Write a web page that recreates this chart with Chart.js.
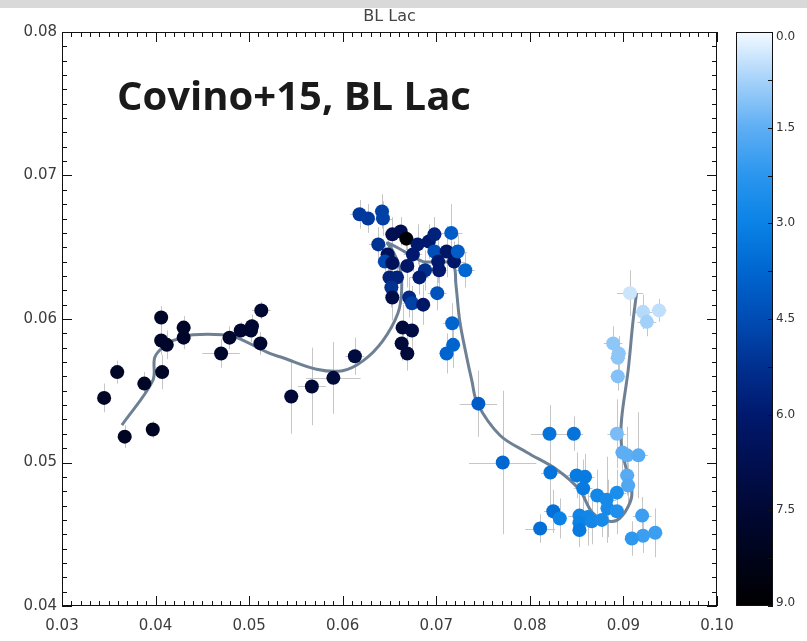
<!DOCTYPE html>
<html>
<head>
<meta charset="utf-8">
<title>BL Lac</title>
<script src="https://cdn.jsdelivr.net/npm/chart.js@4.4.0/dist/chart.umd.min.js"></script>
<style>
html, body { margin: 0; padding: 0; background: #fff; }
#wrap { position: relative; width: 807px; height: 641px; overflow: hidden; }
#topbar { position: absolute; left: 0; top: 0; width: 807px; height: 8px; background: #d9d9d9; z-index: 2; }
#myChart { position: absolute; left: 0; top: 0; }
</style>
</head>
<body>
<div id="wrap">
  <div id="topbar"></div>
  <canvas id="myChart" width="807" height="641"></canvas>
</div>
<script>
'use strict';

// measured points
var xValues = [0.0345,0.0359,0.0367,0.0388,0.0397,0.0406,0.0406,0.0407,0.0412,0.0430,0.0430,0.0470,0.0479,0.0491,0.0502,0.0503,0.0513,0.0512,0.0545,0.0567,0.0590,0.0613,
  0.0618,0.0627,0.0642,0.0643,0.0653,0.0662,0.0668,0.0638,0.0680,0.0692,0.0698,0.0716,0.0648,0.0645,0.0653,0.0675,0.0669,0.0698,0.0702,0.0711,0.0719,0.0723,0.0731,0.0703,0.0688,0.0682,0.0650,0.0658,0.0652,0.0653,0.0671,0.0674,0.0686,0.0701,0.0664,0.0674,0.0663,0.0669,0.0717,0.0718,0.0711,
  0.0745,0.0771,0.0821,0.0847,0.0822,0.0850,0.0859,0.0857,0.0872,0.0882,0.0893,0.0883,0.0893,0.0825,0.0832,0.0853,0.0862,0.0853,0.0866,0.0877,0.0853,0.0811,0.0920,0.0934,0.0921,0.0909,0.0904,0.0905,0.0893,0.0899,0.0904,0.0916,
  0.0907,0.0921,0.0925,0.0938,0.0889,0.0895,0.0894,0.0894];
var yValues = [0.0545,0.0563,0.0518,0.0555,0.0523,0.0601,0.0585,0.0563,0.0582,0.0594,0.0587,0.0576,0.0587,0.0592,0.0592,0.0595,0.0606,0.0583,0.0546,0.0553,0.0559,0.0574,
  0.0673,0.0670,0.0675,0.0670,0.0659,0.0661,0.0656,0.0652,0.0652,0.0654,0.0659,0.0660,0.0645,0.0640,0.0639,0.0645,0.0637,0.0647,0.0640,0.0647,0.0640,0.0647,0.0634,0.0634,0.0634,0.0629,0.0629,0.0629,0.0622,0.0615,0.0615,0.0611,0.0610,0.0618,0.0594,0.0592,0.0583,0.0576,0.0597,0.0582,0.0576,
  0.0541,0.0500,0.0520,0.0520,0.0493,0.0491,0.0490,0.0482,0.0477,0.0474,0.0479,0.0468,0.0466,0.0466,0.0461,0.0463,0.0462,0.0458,0.0459,0.0460,0.0453,0.0454,0.0463,0.0451,0.0449,0.0447,0.0491,0.0484,0.0520,0.0507,0.0505,0.0505,
  0.0618,0.0605,0.0598,0.0606,0.0583,0.0576,0.0573,0.0560];
var xErrors = [0.0008,0.0008,0.0008,0.0008,0.0006,0.0006,0.0006,0.0006,0.0006,0.0008,0.0008,0.0020,0.0008,0.0006,0.0006,0.0006,0.0010,0.0006,0.0008,0.0015,0.0029,0.0010,
  0.0010,0.0008,0.0008,0.0010,0.0008,0.0008,0.0006,0.0010,0.0008,0.0008,0.0008,0.0012,0.0008,0.0008,0.0008,0.0010,0.0008,0.0008,0.0008,0.0010,0.0012,0.0010,0.0010,0.0008,0.0008,0.0010,0.0008,0.0008,0.0008,0.0008,0.0008,0.0010,0.0008,0.0010,0.0008,0.0008,0.0008,0.0008,0.0010,0.0008,0.0008,
  0.0020,0.0036,0.0020,0.0010,0.0010,0.0010,0.0010,0.0010,0.0010,0.0010,0.0010,0.0008,0.0008,0.0010,0.0008,0.0012,0.0008,0.0008,0.0008,0.0008,0.0008,0.0016,0.0010,0.0008,0.0008,0.0008,0.0008,0.0008,0.0010,0.0008,0.0010,0.0010,
  0.0014,0.0010,0.0010,0.0008,0.0010,0.0008,0.0008,0.0008];
var yErrors = [0.0010,0.0008,0.0008,0.0008,0.0006,0.0008,0.0010,0.0012,0.0010,0.0008,0.0008,0.0010,0.0008,0.0006,0.0008,0.0008,0.0006,0.0008,0.0026,0.0027,0.0025,0.0013,
  0.0010,0.0010,0.0012,0.0012,0.0012,0.0010,0.0008,0.0012,0.0014,0.0012,0.0012,0.0020,0.0012,0.0012,0.0014,0.0012,0.0015,0.0012,0.0015,0.0018,0.0014,0.0012,0.0012,0.0016,0.0014,0.0012,0.0015,0.0012,0.0014,0.0016,0.0014,0.0012,0.0014,0.0012,0.0016,0.0014,0.0012,0.0012,0.0014,0.0016,0.0014,
  0.0023,0.0050,0.0020,0.0012,0.0023,0.0016,0.0016,0.0020,0.0018,0.0030,0.0016,0.0020,0.0016,0.0015,0.0014,0.0018,0.0020,0.0015,0.0016,0.0012,0.0012,0.0010,0.0013,0.0017,0.0012,0.0012,0.0014,0.0016,0.0024,0.0016,0.0020,0.0030,
  0.0016,0.0012,0.0010,0.0008,0.0012,0.0012,0.0012,0.0010];
// colour-bar value of every point
var timeValues = [7.9,7.9,8.0,7.9,8.0,7.8,7.8,7.9,7.8,7.8,7.8,7.7,7.7,7.6,7.6,7.6,7.5,7.6,7.4,7.4,7.3,7.2,
  5.0,5.0,4.8,4.8,6.7,6.7,8.8,5.2,6.0,6.0,5.7,4.0,6.5,4.6,6.5,6.0,6.2,4.4,6.0,6.2,6.2,4.0,3.7,6.0,5.3,5.9,5.7,5.7,5.2,7.0,5.5,4.8,6.2,4.3,7.3,7.1,7.3,7.3,3.8,3.8,3.8,
  4.0,3.7,3.4,3.4,3.4,3.2,3.2,3.2,2.8,2.7,2.6,2.7,2.5,3.5,3.0,2.9,2.8,3.0,2.8,2.7,3.2,3.5,2.0,2.0,2.0,2.2,1.6,1.7,1.2,1.5,1.5,1.6,
  0.4,0.6,0.8,0.5,1.0,1.0,1.0,1.1];

// smooth trend line
var curveX = [0.0364,0.0397,0.0399,0.0407,0.0415,0.0429,0.0440,0.0472,0.0487,0.0522,0.0536,0.0572,0.0600,0.0622,0.0643,0.0659,0.0663,0.0661,0.0653,0.0648,0.0666,0.0686,0.0704,0.0718,0.0721,0.0725,0.0732,0.0738,0.0744,0.0768,0.0797,0.0829,0.0853,0.0867,0.0885,0.0896,0.0907,0.0909,0.0904,0.0898,0.0898,0.0905,0.0910,0.0914];
var curveY = [0.0526,0.0557,0.0573,0.0580,0.0584,0.0587,0.0589,0.0589,0.0587,0.0576,0.0573,0.0565,0.0564,0.0571,0.0585,0.0604,0.0620,0.0636,0.0648,0.0653,0.0647,0.0640,0.0640,0.0638,0.0624,0.0599,0.0575,0.0557,0.0541,0.0519,0.0507,0.0495,0.0481,0.0465,0.0459,0.0461,0.0472,0.0481,0.0493,0.0511,0.0530,0.0564,0.0597,0.0618];

var xTickValues = [0.03,0.04,0.05,0.06,0.07,0.08,0.09,0.10];
var xTickLabels = ['0.03','0.04','0.05','0.06','0.07','0.08','0.09','0.10'];
var yTickValues = [0.04,0.05,0.06,0.07,0.08];
var yTickLabels = ['0.04','0.05','0.06','0.07','0.08'];
var barTickValues = [0,1.5,3,4.5,6,7.5,9];
var barTickLabels = ['0.0','1.5','3.0','4.5','6.0','7.5','9.0'];

var cmapStops = [[0,'#f4faff'],[0.75,'#a6d2fa'],[1.5,'#5eaef4'],[2.25,'#2a96ee'],[3,'#0a82e6'],[3.75,'#0066d0'],
  [4.5,'#004cb4'],[5.25,'#00308f'],[6,'#00196e'],[6.75,'#000f50'],[7.5,'#000834'],[8.25,'#00041a'],[9,'#000000']];

function hexToRgb(h){
    return [parseInt(h.substr(1,2),16), parseInt(h.substr(3,2),16), parseInt(h.substr(5,2),16)];
}

function colorFor(t){
    for (var i = 0; i < cmapStops.length - 1; i++){
        var a = cmapStops[i], b = cmapStops[i+1];
        if (t <= b[0] || i === cmapStops.length - 2){
            var f = (t - a[0]) / (b[0] - a[0]);
            f = Math.max(0, Math.min(1, f));
            var ca = hexToRgb(a[1]), cb = hexToRgb(b[1]);
            var r = Math.round(ca[0] + (cb[0]-ca[0])*f);
            var g = Math.round(ca[1] + (cb[1]-ca[1])*f);
            var bl = Math.round(ca[2] + (cb[2]-ca[2])*f);
            return 'rgb(' + r + ',' + g + ',' + bl + ')';
        }
    }
}

var points = [];
var pointColors = [];
for (var i = 0; i < xValues.length; i++){
    points.push({x: xValues[i], y: yValues[i]});
    pointColors.push(colorFor(timeValues[i]));
}
var curve = [];
for (var j = 0; j < curveX.length; j++){
    curve.push({x: curveX[j], y: curveY[j]});
}

var extraDraw = {
    id: 'extraDraw',
    beforeDatasetsDraw: function(chart){
        // error bars
        var ctx = chart.ctx, xs = chart.scales.x, ys = chart.scales.y;
        ctx.save();
        ctx.strokeStyle = '#c6c6c6';
        ctx.lineWidth = 1;
        for (var i = 0; i < xValues.length; i++){
            var px = Math.round(xs.getPixelForValue(xValues[i])) + 0.5;
            var py = Math.round(ys.getPixelForValue(yValues[i])) + 0.5;
            ctx.beginPath();
            ctx.moveTo(xs.getPixelForValue(xValues[i] - xErrors[i]), py);
            ctx.lineTo(xs.getPixelForValue(xValues[i] + xErrors[i]), py);
            ctx.moveTo(px, ys.getPixelForValue(yValues[i] - yErrors[i]));
            ctx.lineTo(px, ys.getPixelForValue(yValues[i] + yErrors[i]));
            ctx.stroke();
        }
        ctx.restore();
    },
    afterDraw: function(chart){
        var ctx = chart.ctx, xs = chart.scales.x, ys = chart.scales.y;
        var a = chart.chartArea;
        ctx.save();

        // frame + inward ticks on all four sides
        ctx.strokeStyle = '#111';
        ctx.lineWidth = 1;
        ctx.strokeRect(a.left + 0.5, a.top + 0.5, a.right - a.left - 1, a.bottom - a.top - 1);
        ctx.beginPath();
        for (var i = 30; i <= 100; i++){
            var px = Math.round(xs.getPixelForValue(i / 1000)) + 0.5;
            var len = (i % 10 === 0) ? 10 : 5;
            ctx.moveTo(px, a.bottom); ctx.lineTo(px, a.bottom - len);
            ctx.moveTo(px, a.top); ctx.lineTo(px, a.top + len);
        }
        for (var k = 40; k <= 80; k++){
            var py = Math.round(ys.getPixelForValue(k / 1000)) + 0.5;
            var l2 = (k % 10 === 0) ? 10 : 5;
            ctx.moveTo(a.left, py); ctx.lineTo(a.left + l2, py);
            ctx.moveTo(a.right, py); ctx.lineTo(a.right - l2, py);
        }
        ctx.stroke();

        // colour bar
        var cbL = a.right + 19, cbR = a.right + 56, cbT = a.top, cbB = a.bottom;
        var grad = ctx.createLinearGradient(0, cbT, 0, cbB);
        for (var s = 0; s < cmapStops.length; s++){
            grad.addColorStop(cmapStops[s][0] / 9, cmapStops[s][1]);
        }
        ctx.fillStyle = grad;
        ctx.fillRect(cbL, cbT, cbR - cbL, cbB - cbT);
        ctx.strokeStyle = '#111';
        ctx.strokeRect(cbL + 0.5, cbT + 0.5, cbR - cbL - 1, cbB - cbT - 1);
        ctx.beginPath();
        for (var m = 0; m <= 12; m++){
            var ty = Math.round(cbT + (cbB - cbT) * (m * 0.75) / 9) + 0.5;
            ctx.moveTo(cbR, ty); ctx.lineTo(cbR - 5, ty);
        }
        ctx.stroke();
        ctx.fillStyle = '#333';
        ctx.font = '12px "DejaVu Sans"';
        ctx.textAlign = 'left';
        ctx.textBaseline = 'middle';
        for (var n = 0; n < barTickValues.length; n++){
            var ly = cbT + (cbB - cbT) * barTickValues[n] / 9;
            if (n === 0) ly += 5;
            if (n === barTickValues.length - 1) ly -= 3;
            ctx.fillText(barTickLabels[n], cbR + 3, ly);
        }

        // titles
        ctx.fillStyle = '#444';
        ctx.font = '16px "DejaVu Sans"';
        ctx.textAlign = 'center';
        ctx.textBaseline = 'alphabetic';
        ctx.fillText('BL Lac', (a.left + a.right) / 2, a.top - 11);

        ctx.fillStyle = '#1a1a1a';
        ctx.font = 'bold 40px "Open Sans"';
        ctx.textAlign = 'left';
        ctx.fillText('Covino+15, BL Lac', a.left + 55, a.top + 78);
        ctx.restore();
    }
};

var ctx = document.getElementById('myChart').getContext('2d');
var chart = new Chart(ctx, {
    type: 'scatter',
    data: {
        datasets: [{
            label: 'BL Lac',
            data: points,
            backgroundColor: pointColors,
            borderWidth: 0,
            pointRadius: 7,
            order: 0
        },
        {
            type: 'line',
            label: 'trend',
            data: curve,
            borderColor: '#6e8194',
            borderWidth: 3,
            pointRadius: 0,
            tension: 0.35,
            fill: false,
            order: 1
        }]
    },
    options: {
        responsive: false,
        animation: false,
        layout: { padding: { top: 32, right: 90, left: 0, bottom: 0 } },
        plugins: { legend: { display: false }, tooltip: { enabled: false } },
        scales: {
            x: {
                type: 'linear',
                min: 0.03,
                max: 0.10,
                grid: { display: false, drawTicks: false },
                border: { display: false },
                afterBuildTicks: function(scale){
                    scale.ticks = xTickValues.map(function(v){ return {value: v}; });
                },
                afterFit: function(scale){ scale.height = 35; },
                ticks: {
                    padding: 11,
                    color: '#3c3c3c',
                    font: { family: 'DejaVu Sans', size: 15 },
                    maxRotation: 0,
                    callback: function(v, idx){ return xTickLabels[idx]; }
                }
            },
            y: {
                type: 'linear',
                min: 0.04,
                max: 0.08,
                grid: { display: false, drawTicks: false },
                border: { display: false },
                afterBuildTicks: function(scale){
                    scale.ticks = yTickValues.map(function(v){ return {value: v}; });
                },
                afterFit: function(scale){ scale.width = 62; },
                ticks: {
                    padding: 5,
                    color: '#3c3c3c',
                    font: { family: 'DejaVu Sans', size: 15 },
                    callback: function(v, idx){ return yTickLabels[idx]; }
                }
            }
        }
    },
    plugins: [extraDraw]
});
</script>
</body>
</html>
